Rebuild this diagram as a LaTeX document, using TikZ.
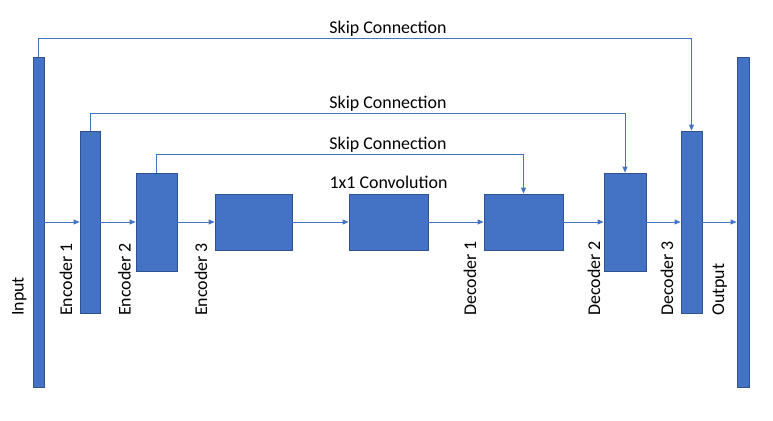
\documentclass[tikz,border=0pt]{standalone}
\usepackage{fontspec}
\setmainfont{Carlito}
\usetikzlibrary{positioning,arrows.meta}
\definecolor{layerblue}{HTML}{4472C4}
\definecolor{layeredge}{HTML}{2F528F}

\begin{document}
\begin{tikzpicture}[
    x=1bp, y=1bp,
    layer/.style n args={2}{draw=layeredge, fill=layerblue, line width=0.8bp, inner sep=0pt, minimum width=#1, minimum height=#2},
    flow/.style={draw=layerblue, line width=0.9bp, -{Triangle[length=6bp,width=5bp]}},
    lbl/.style={font=\fontsize{18}{21}\selectfont, inner sep=0pt},
    side/.style={lbl, rotate=90, anchor=base west}
  ]
  \useasboundingbox (0,0) rectangle (773,420);
  \node[layer={11bp}{330bp}] (input) at (38.5,198) {};
  \node[layer={20bp}{182bp}] (enc1) at (90,198) {};
  \node[layer={41bp}{98bp}] (enc2) at (156.5,198) {};
  \node[layer={77bp}{56bp}] (enc3) at (253.5,198) {};
  \node[layer={79bp}{56bp}] (conv) at (388.5,198) {};
  \node[layer={79bp}{56bp}] (dec1) at (523.5,198) {};
  \node[layer={42bp}{98bp}] (dec2) at (625,198) {};
  \node[layer={21bp}{182bp}] (dec3) at (691.5,198) {};
  \node[layer={12bp}{330bp}] (output) at (743,198) {};
  % main path
  \draw[flow] (input) -- (enc1);
  \draw[flow] (enc1) -- (enc2);
  \draw[flow] (enc2) -- (enc3);
  \draw[flow] (enc3) -- (conv);
  \draw[flow] (conv) -- (dec1);
  \draw[flow] (dec1) -- (dec2);
  \draw[flow] (dec2) -- (dec3);
  \draw[flow] (dec3) -- (output);
  % skip connections
  \draw[flow] (input.north) -- ++(0,18) -| (dec3.north);
  \draw[flow] (enc1.north) -- ++(0,17) -| (dec2.north);
  \draw[flow] (enc2.north) -- ++(0,18) -| (dec1.north);
  \node[lbl, anchor=base] (skiplbl1) at (388,387) {Skip Connection};
  \node[lbl, anchor=base] (skiplbl2) at (388,312) {Skip Connection};
  \node[lbl, anchor=base] (skiplbl3) at (388,271) {Skip Connection};
  \node[lbl, above=5bp of conv] (convlbl) {1x1 Convolution};
  % layer names
  \node[side] (inputlbl) at (23.5,104) {Input};
  \node[side] (enc1lbl) at (72,104) {Encoder 1};
  \node[side] (enc2lbl) at (130.5,104) {Encoder 2};
  \node[side] (enc3lbl) at (207,104) {Encoder 3};
  \node[side] (dec1lbl) at (476,104) {Decoder 1};
  \node[side] (dec2lbl) at (600,104) {Decoder 2};
  \node[side] (dec3lbl) at (673,104) {Decoder 3};
  \node[side] (outputlbl) at (724,104) {Output};
\end{tikzpicture}
\end{document}
